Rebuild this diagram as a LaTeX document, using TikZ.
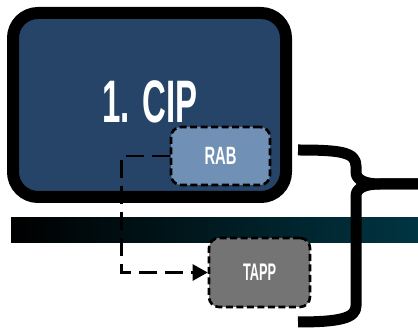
\documentclass[tikz,border=0pt]{standalone}
\usepackage{fontspec}
\setmainfont{Liberation Sans}
\usetikzlibrary{arrows.meta}
\definecolor{cipblue}{HTML}{264468}
\definecolor{rabblue}{HTML}{7190B5}
\definecolor{tappgray}{HTML}{747474}
\definecolor{bandteal}{HTML}{003542}
\tikzset{
  cipbox/.style={draw=black, fill=cipblue, line width=12pt, rounded corners=25pt, minimum width=273pt, minimum height=184pt, inner sep=0pt},
  subbox/.style={draw=black, line width=2.6pt, dash pattern=on 7pt off 3.5pt, rounded corners=10pt, inner sep=0pt, text=white},
  conn/.style={line width=2.5pt, dash pattern=on 18pt off 8pt, -{Triangle[length=15pt,width=16pt]}},
  brace/.style={line width=11pt, line cap=butt, line join=round},
}
\begin{document}
\begin{tikzpicture}[x=1pt,y=-1pt]
\useasboundingbox (0,0) rectangle (418,328);
\node[cipbox] (cip) at (149.5,105) {};
\node[text=white, inner sep=0pt] (ciptext) at (150,101.5)
  {\fontsize{60}{60}\selectfont\scalebox{0.55}[1]{\bfseries 1. CIP}};
\node[subbox, fill=rabblue, minimum width=99pt, minimum height=58pt] (rab) at (220.5,156)
  {\fontsize{25}{25}\selectfont\scalebox{0.59}[1]{\bfseries RAB}};
\shade[left color=black, right color=bandteal] (11,218) rectangle (418,243);
\node[subbox, fill=tappgray, minimum width=101pt, minimum height=69pt] (tapp) at (259.5,272.5)
  {\fontsize{24}{24}\selectfont\scalebox{0.53}[1]{\bfseries TAPP}};
\draw[conn] (rab.west) -- ++(-48,0) |- (tapp.west);
\coordinate (btop) at (298,150);
\coordinate (btip) at (418,184);
\coordinate (bbot) at (298,322);
\draw[brace] (btop) .. controls (340,150) and (356,152) .. (356,166) -- (356,172)
  .. controls (356,180) and (365,184) .. (380,184) -- (btip);
\draw[brace] (btip) -- (380,184) .. controls (365,184) and (356,188) .. (356,196)
  -- (356,306) .. controls (356,318) and (340,322) .. (bbot);
\end{tikzpicture}
\end{document}
